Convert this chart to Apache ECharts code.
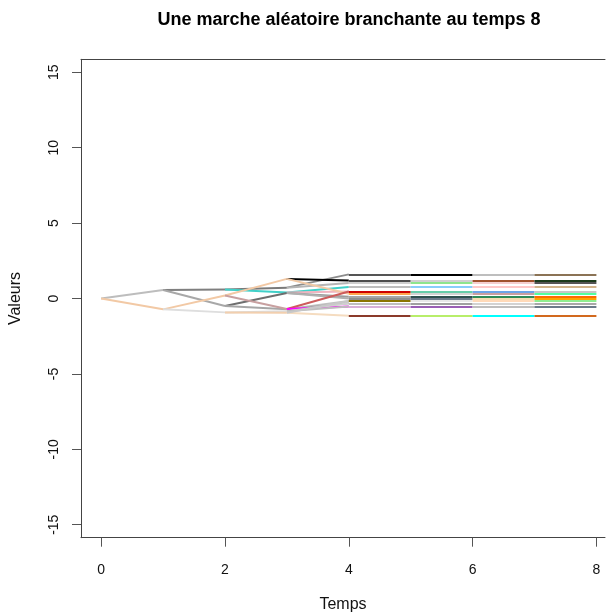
<!DOCTYPE html>
<html>
<head>
<meta charset="utf-8">
<script src="https://cdn.jsdelivr.net/npm/echarts@6/dist/echarts.min.js"></script>
<style>
  html, body { margin: 0; padding: 0; background: #fff; }
  #chart { width: 606px; height: 613px; }
</style>
</head>
<body>
<div id="chart"></div>
<script>
// Branching random walk: each node splits in two at every time step.
// Generations 1..4 (binary tree, parent of node k in gen g is node floor(k/2) in gen g-1).
const gen1 = [0.56, -0.72];
const gen2 = [0.6, -0.5, 0.2, -0.92];
const gen3 = [0.72, 0.4, 0.37, -0.72, 1.3, -0.7, -0.85, -0.95];
const gen4 = [1.6, 1.02, 0.77, 0.46, 0.12, 0.0, -0.17, -0.32,
              1.2, 0.31, 0.46, -0.53, -0.32, -0.53, -1.14, -0.17];

const gen1Colors = ['#bdbdbd', '#f2c9a5'];
const gen2Colors = ['#7f7f7f', '#a8a8a8', '#f2c9a5', '#dedede'];
const gen3Colors = ['#7a7a7a', '#40d0c8', '#6e6e6e', '#a6a6a6', '#f2c9a5', '#c8a0a0', '#dcdcdc', '#f2cfae'];
const gen4Colors = ['#8c8c8c', '#b5b5b5', '#40d0c8', '#f0b4c0', '#9c9c9c', '#b0b0b0', '#c0c0c0', '#a8a8a8',
                    '#000000', '#f2c9a5', '#cd5c5c', '#ff00ff', '#d0d0d0', '#bdbdbd', '#f5dcc0', '#c8c8c8'];

// From time 4 on the walk barely moves: levels reached, and the colour seen on each level per step.
const lateLevels = [1.6, 1.2, 1.02, 0.77, 0.46, 0.31, 0.12, 0.0, -0.17, -0.32, -0.53, -1.14];
const colors45 = ['#555555', '#4d4d4d', '#cfcfcf', '#bdbdbd', '#cd0000', '#ffa54f',
                  '#a6a6a6', '#8f8f8f', '#8b7500', '#bfbfbf', '#d8b0d8', '#8b3a2a'];
const colors56 = ['#000000', '#d0d0d0', '#8ee58e', '#87cefa', '#66cdaa', '#d3d3d3',
                  '#2f4f4f', '#6c7b8b', '#e8e8e8', '#a0a0a0', '#9a5fb5', '#b8ee6a'];
const colors67 = ['#bebebe', '#a0522d', '#f5cfcf', '#ffc8c8', '#6ca6e8', '#c9a0a0',
                  '#2e8b57', '#f5deb3', '#ffdab9', '#d3d3d3', '#bebebe', '#00ffff'];
const colors78 = ['#8b7355', '#1c3a1c', '#555555', '#d2b48c', '#c8c8c8', '#54ff9f',
                  '#ff6a00', '#ffa500', '#90ee90', '#a8a8a8', '#6c7b8b', '#d2691e'];

const tickX = [0, 2, 4, 6, 8];
const tickY = [-15, -10, -5, 0, 5, 10, 15];

// Build segments: parent -> child for the tree, then horizontal steps
const generations = [[0], gen1, gen2, gen3, gen4];
const genColors = [null, gen1Colors, gen2Colors, gen3Colors, gen4Colors];
const segments = [];
for (let g = 1; g < generations.length; g++) {
  generations[g].forEach((v, k) => {
    const pv = generations[g - 1][Math.floor(k / 2)];
    segments.push({ coords: [[g - 1, pv], [g, v]], lineStyle: { color: genColors[g][k] } });
  });
}
[colors45, colors56, colors67, colors78].forEach((cols, s) => {
  const t = 4 + s;
  lateLevels.forEach((v, j) => {
    segments.push({ coords: [[t, v], [t + 1, v]], lineStyle: { color: cols[j] } });
  });
});

const font = "'Liberation Sans', Arial, sans-serif";
const frame = { show: true, onZero: false, lineStyle: { color: '#444', width: 1 } };
const chart = echarts.init(document.getElementById('chart'), null, { renderer: 'canvas' });
chart.setOption({
  animation: false,
  backgroundColor: '#ffffff',
  graphic: [{
    type: 'text', x: 349, y: 20,
    style: { text: 'Une marche aléatoire branchante au temps 8', font: 'bold 18px ' + font,
             fill: '#000', textAlign: 'center', textVerticalAlign: 'middle' }
  }],
  grid: { left: 81, top: 59.3, width: 524, height: 478.4, show: false, outerBoundsMode: 'none' },
  xAxis: [{
    type: 'value', min: -0.326, max: 8.139, position: 'bottom',
    name: 'Temps', nameLocation: 'middle', nameGap: 59,
    nameTextStyle: { fontFamily: font, fontSize: 16, color: '#111' },
    axisLine: frame,
    axisTick: { show: true, inside: false, length: 9, lineStyle: { color: '#555' }, customValues: tickX },
    axisLabel: { fontFamily: font, fontSize: 14, color: '#111', margin: 25, customValues: tickX },
    splitLine: { show: false }
  }, {
    type: 'value', min: -0.326, max: 8.139, position: 'top',
    axisLine: frame, axisTick: { show: false }, axisLabel: { show: false }, splitLine: { show: false }
  }],
  yAxis: {
    type: 'value', min: -15.86, max: 15.86, position: 'left',
    name: 'Valeurs', nameLocation: 'middle', nameGap: 57, nameRotate: 90,
    nameTextStyle: { fontFamily: font, fontSize: 16, color: '#111' },
    axisLine: frame,
    axisTick: { show: true, inside: false, length: 9, lineStyle: { color: '#555' }, customValues: tickY },
    axisLabel: { fontFamily: font, fontSize: 14, color: '#111', margin: 20, rotate: 90, customValues: tickY },
    splitLine: { show: false }
  },
  series: [{
    type: 'lines', coordinateSystem: 'cartesian2d', xAxisIndex: 0, yAxisIndex: 0,
    polyline: false, silent: true,
    lineStyle: { width: 2, opacity: 1 },
    data: segments
  }]
});
</script>
</body>
</html>
